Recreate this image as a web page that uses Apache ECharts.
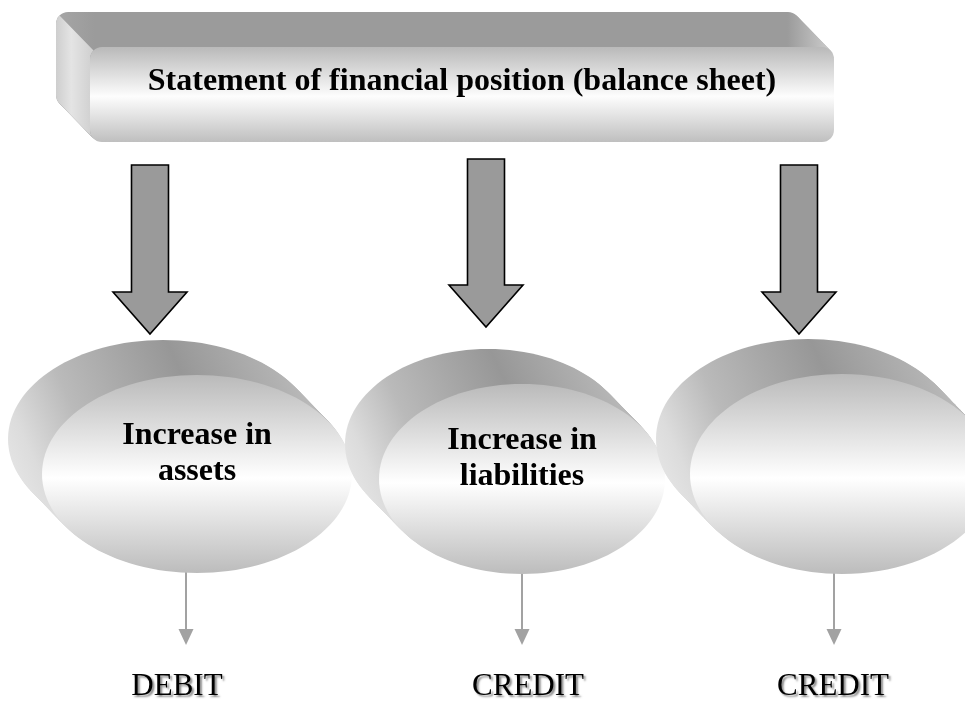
<!DOCTYPE html>
<html>
<head>
<meta charset="utf-8">
<script src="https://cdn.jsdelivr.net/npm/echarts@6/dist/echarts.min.js"></script>
<style>
html, body { margin: 0; padding: 0; background: #ffffff; }
#main { width: 965px; height: 701px; }
</style>
</head>
<body>
<div id="main"></div>
<script>
// 顶部标题框 (图内坐标)
const boxTitle = ['Statement of financial position (balance sheet)'];
const boxLeft = [90];
const boxTop = [47];
const boxRight = [834];
const boxBottom = [142];

// 三个大箭头
const arrowX = [150, 486, 799];
const arrowTop = [165, 159, 165];
const arrowHead = [292, 285, 292];
const arrowTip = [334, 327, 334];

// 三个椭圆
const nodeLabels = [['Increase in', 'assets'], ['Increase in', 'liabilities'], []];
const nodeX = [197, 522, 842];
const nodeY = [474, 479, 474];
const nodeRx = [155, 143, 152];
const nodeRy = [99, 95, 100];

// 小箭头和结果文字
const pointerX = [186, 522, 834];
const pointerTip = [645, 645, 645];
const resultLabels = ['DEBIT', 'CREDIT', 'CREDIT'];
const resultX = [177, 528, 833];
const resultY = [687, 687, 687];

const SERIF = "'Liberation Serif', 'Times New Roman', serif";
const DX = 34, DY = 35, STEPS = 35;

function arcPts(cx, cy, r, a0, a1, n) {
    let pts = [];
    for (let i = 0; i <= n; i++) {
        let a = (a0 + (a1 - a0) * i / n) * Math.PI / 180;
        pts.push([cx + r * Math.cos(a), cy + r * Math.sin(a)]);
    }
    return pts;
}

function renderBox(params, api) {
    const p0 = api.coord([api.value(0), api.value(1)]);
    const p1 = api.coord([api.value(2), api.value(3)]);
    const x0 = p0[0], y0 = p0[1], x1 = p1[0], y1 = p1[1];
    const w = x1 - x0, h = y1 - y0, r = 12;
    const children = [];
    const backFill = new echarts.graphic.LinearGradient(x0 - DX, 0, x1, 0, [
        { offset: 0, color: '#a6a6a6' },
        { offset: 0.05, color: '#9b9b9b' },
        { offset: 0.94, color: '#9b9b9b' },
        { offset: 1, color: '#d0d0d0' }
    ], true);
    for (let k = STEPS; k >= 1; k--) {
        children.push({
            type: 'rect',
            shape: { x: x0 - DX * k / STEPS, y: y0 - DY * k / STEPS, width: w, height: h, r: r },
            style: { fill: backFill }
        });
    }
    // 左侧面
    let pts = [].concat(
        arcPts(x0 + r, y0 + r, r, 225, 180, 6),
        arcPts(x0 + r, y1 - r, r, 180, 135, 6),
        arcPts(x0 + r - DX, y1 - r - DY, r, 135, 180, 6),
        arcPts(x0 + r - DX, y0 + r - DY, r, 180, 225, 6)
    );
    children.push({
        type: 'polygon',
        shape: { points: pts },
        style: {
            fill: new echarts.graphic.LinearGradient(x0 - DX, 0, x0, 0, [
                { offset: 0, color: '#cecece' },
                { offset: 0.45, color: '#e4e4e4' },
                { offset: 1, color: '#d2d2d2' }
            ], true)
        }
    });
    // 正面
    children.push({
        type: 'rect',
        shape: { x: x0, y: y0, width: w, height: h, r: r },
        style: {
            fill: new echarts.graphic.LinearGradient(0, 0, 0, 1, [
                { offset: 0, color: '#b9b9b9' },
                { offset: 0.52, color: '#fdfdfd' },
                { offset: 1, color: '#bfbfbf' }
            ])
        }
    });
    children.push({
        type: 'text',
        x: (x0 + x1) / 2,
        y: y0 + 35,
        style: {
            text: boxTitle[params.dataIndex],
            fill: '#000000',
            font: 'bold 32px ' + SERIF,
            align: 'center',
            verticalAlign: 'middle'
        }
    });
    return { type: 'group', children: children };
}

function renderArrow(params, api) {
    const x = api.value(0);
    const top = api.coord([x, api.value(1)]);
    const head = api.coord([x, api.value(2)]);
    const tip = api.coord([x, api.value(3)]);
    const cx = top[0], hw = 18.5, HW = 37;
    return {
        type: 'polygon',
        shape: {
            points: [
                [cx - hw, top[1]], [cx + hw, top[1]], [cx + hw, head[1]], [cx + HW, head[1]],
                [cx, tip[1]], [cx - HW, head[1]], [cx - hw, head[1]]
            ]
        },
        style: { fill: '#9a9a9a', stroke: '#000000', lineWidth: 1.6, lineJoin: 'miter' }
    };
}

function renderNode(params, api) {
    const i = params.dataIndex;
    const c = api.coord([api.value(0), api.value(1)]);
    const s = api.size([api.value(2), api.value(3)]);
    const rx = Math.abs(s[0]), ry = Math.abs(s[1]);
    const children = [];
    const sideFill = new echarts.graphic.LinearGradient(
        c[0] - rx - DX, c[1] + ry * 0.2, c[0] + rx, c[1] - ry - DY, [
            { offset: 0, color: '#e8e8e8' },
            { offset: 0.1, color: '#dcdcdc' },
            { offset: 0.25, color: '#bababa' },
            { offset: 0.55, color: '#979797' },
            { offset: 0.78, color: '#b2b2b2' },
            { offset: 1, color: '#d0d0d0' }
        ], true);
    for (let k = STEPS; k >= 1; k--) {
        children.push({
            type: 'ellipse',
            shape: { cx: c[0] - DX * k / STEPS, cy: c[1] - DY * k / STEPS, rx: rx, ry: ry },
            style: { fill: sideFill }
        });
    }
    children.push({
        type: 'ellipse',
        shape: { cx: c[0], cy: c[1], rx: rx, ry: ry },
        style: {
            fill: new echarts.graphic.LinearGradient(0, 0, 0, 1, [
                { offset: 0, color: '#bababa' },
                { offset: 0.52, color: '#ffffff' },
                { offset: 1, color: '#bcbcbc' }
            ])
        }
    });
    nodeLabels[i].forEach(function (line, j) {
        children.push({
            type: 'text',
            x: c[0],
            y: c[1] - 38 + j * 36,
            style: {
                text: line,
                fill: '#000000',
                font: 'bold 32px ' + SERIF,
                align: 'center',
                verticalAlign: 'middle'
            }
        });
    });
    return { type: 'group', children: children };
}

function renderPointer(params, api) {
    const a = api.coord([api.value(0), api.value(1)]);
    const b = api.coord([api.value(0), api.value(2)]);
    return {
        type: 'group',
        children: [
            {
                type: 'line',
                shape: { x1: a[0], y1: a[1], x2: b[0], y2: b[1] - 12 },
                style: { stroke: '#a2a2a2', lineWidth: 2 }
            },
            {
                type: 'polygon',
                shape: { points: [[b[0] - 7.5, b[1] - 16], [b[0] + 7.5, b[1] - 16], [b[0], b[1]]] },
                style: { fill: '#a2a2a2' }
            }
        ]
    };
}

function renderResult(params, api) {
    const p = api.coord([api.value(0), api.value(1)]);
    return {
        type: 'text',
        x: p[0],
        y: p[1],
        style: {
            text: resultLabels[params.dataIndex],
            fill: '#000000',
            font: '31px ' + SERIF,
            align: 'center',
            verticalAlign: 'middle',
            textShadowColor: 'rgba(0,0,0,0.45)',
            textShadowBlur: 2,
            textShadowOffsetX: 2,
            textShadowOffsetY: 2
        }
    };
}

const myChart = echarts.init(document.getElementById('main'));
const option = {
    animation: false,
    grid: { left: 0, right: 0, top: 0, bottom: 0 },
    xAxis: { type: 'value', min: 0, max: 965, show: false },
    yAxis: { type: 'value', min: 0, max: 701, inverse: true, show: false },
    series: [
        {
            type: 'custom', z: 2, renderItem: renderBox,
            data: boxLeft.map((x, i) => [x, boxTop[i], boxRight[i], boxBottom[i]])
        },
        {
            type: 'custom', z: 3, renderItem: renderArrow,
            data: arrowX.map((x, i) => [x, arrowTop[i], arrowHead[i], arrowTip[i]])
        },
        {
            type: 'custom', z: 3, renderItem: renderPointer,
            data: pointerX.map((x, i) => [x, nodeY[i], pointerTip[i]])
        },
        {
            type: 'custom', z: 4, renderItem: renderNode,
            data: nodeX.map((x, i) => [x, nodeY[i], nodeRx[i], nodeRy[i]])
        },
        {
            type: 'custom', z: 5, renderItem: renderResult,
            data: resultX.map((x, i) => [x, resultY[i]])
        }
    ]
};
myChart.setOption(option);
window.addEventListener('resize', function () {
    myChart.resize();
});
</script>
</body>
</html>
